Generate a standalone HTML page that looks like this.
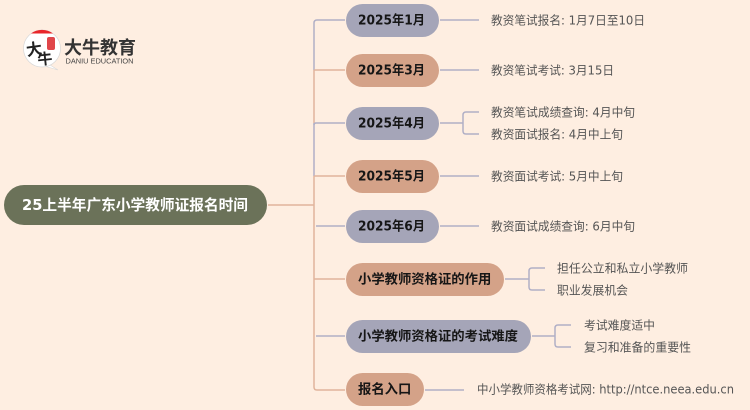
<!DOCTYPE html>
<html><head><meta charset="utf-8"><style>
html,body{margin:0;padding:0;background:#feeee1;width:750px;height:410px;overflow:hidden}
svg{display:block}
text{font-family:"DejaVu Sans","Noto Sans CJK SC",sans-serif}
.p{font-size:13.33px;font-weight:700;fill:#161616;dominant-baseline:central}
.l{font-size:12px;fill:#555;dominant-baseline:central}
.a{fill:none;stroke:#b0afc6;stroke-width:1.5}
.b{fill:none;stroke:#e0b49c;stroke-width:1.5}
</style></head><body>
<svg width="750" height="410" viewBox="0 0 750 410" xmlns="http://www.w3.org/2000/svg">
<rect width="750" height="410" fill="#feeee1"/>

<!-- logo -->
<path d="M50 65L58 70 46 66.500z" fill="#fff" stroke="#d8d8d8" stroke-width=".6"/>
<circle cx="42" cy="48.500" r="18.500" fill="#fff" stroke="#d8d8d8" stroke-width=".7"/>
<path d="M31 33.500a18.500 18.500 0 0 1 22 0z" fill="#e8262a"/>
<rect x="47" y="37" width="8" height="13" rx="2" fill="#e0464a"/>
<text x="26" y="0" font-size="16" font-weight="700" fill="#222" transform="translate(1 56) rotate(-8 26 0)" style="font-family:'Noto Sans CJK SC',sans-serif">大</text>
<text x="38" y="0" font-size="15" font-weight="700" fill="#222" transform="translate(0 65) rotate(-6 38 0)" style="font-family:'Noto Sans CJK SC',sans-serif">牛</text>
<text x="64" y="54" font-size="18" font-weight="700" fill="#333" textLength="72" lengthAdjust="spacingAndGlyphs" style="font-family:'Noto Sans CJK SC',sans-serif">大牛教育</text>
<text x="65.500" y="63.500" font-size="7" fill="#444" textLength="68" lengthAdjust="spacingAndGlyphs" style="font-family:'Liberation Sans',sans-serif">DANIU EDUCATION</text>

<!-- spine -->
<path class="b" d="M268 205H314"/>
<path class="a" d="M345 20H317Q314 20 314 23V70"/>
<path class="b" d="M314 70V123"/>
<path class="a" d="M314 123V176"/>
<path class="b" d="M314 176V387Q314 390 317 390H345"/>
<path class="b" d="M345 70H314"/>
<path class="a" d="M345 123H316Q314 123 314 125"/>
<path class="b" d="M345 176H314"/>
<path class="a" d="M345 226H316"/>
<path class="b" d="M345 279H314"/>
<path class="a" d="M345 336H316"/>

<!-- leaf connectors -->
<path class="a" d="M440 20H479"/>
<path class="a" d="M440 70H479"/>
<path class="a" d="M440 123H463M479 112H466Q463 112 463 115V131Q463 134 466 134H479"/>
<path class="a" d="M440 176H479"/>
<path class="a" d="M440 226H479"/>
<path class="a" d="M505 279H529M545 268H532Q529 268 529 271V287Q529 290 532 290H545"/>
<path class="a" d="M532 336H555M571 325H558Q555 325 555 328V344Q555 347 558 347H571"/>
<path class="a" d="M425 390H464"/>

<!-- root -->
<rect x="4" y="185" width="263" height="40" rx="20" fill="#6b7259"/>
<text x="22" y="205" font-size="15" font-weight="700" fill="#fff" dominant-baseline="central" textLength="226" lengthAdjust="spacingAndGlyphs">25上半年广东小学教师证报名时间</text>

<!-- pills -->
<rect x="346" y="4" width="93" height="33" rx="16.500" fill="#a5a5b8"/>
<text class="p" x="358" y="21" textLength="67" lengthAdjust="spacingAndGlyphs">2025年1月</text>
<rect x="346" y="54" width="93" height="33" rx="16.500" fill="#d4a288"/>
<text class="p" x="358" y="71" textLength="67" lengthAdjust="spacingAndGlyphs">2025年3月</text>
<rect x="346" y="107" width="93" height="33" rx="16.500" fill="#a5a5b8"/>
<text class="p" x="358" y="124" textLength="67" lengthAdjust="spacingAndGlyphs">2025年4月</text>
<rect x="346" y="160" width="93" height="33" rx="16.500" fill="#d4a288"/>
<text class="p" x="358" y="177" textLength="67" lengthAdjust="spacingAndGlyphs">2025年5月</text>
<rect x="346" y="210" width="93" height="33" rx="16.500" fill="#a5a5b8"/>
<text class="p" x="358" y="227" textLength="67" lengthAdjust="spacingAndGlyphs">2025年6月</text>
<rect x="346" y="263" width="158" height="33" rx="16.500" fill="#d4a288"/>
<text class="p" x="358" y="280">小学教师资格证的作用</text>
<rect x="346" y="320" width="185" height="33" rx="16.500" fill="#a5a5b8"/>
<text class="p" x="358" y="337">小学教师资格证的考试难度</text>
<rect x="346" y="373" width="78" height="33" rx="16.500" fill="#d4a288"/>
<text class="p" x="358" y="390">报名入口</text>

<!-- leaves -->
<text class="l" x="491" y="20.500" textLength="154" lengthAdjust="spacingAndGlyphs">教资笔试报名: 1月7日至10日</text>
<text class="l" x="491" y="70.500" textLength="123" lengthAdjust="spacingAndGlyphs">教资笔试考试: 3月15日</text>
<text class="l" x="491" y="112.500" textLength="144" lengthAdjust="spacingAndGlyphs">教资笔试成绩查询: 4月中旬</text>
<text class="l" x="491" y="134.500" textLength="132" lengthAdjust="spacingAndGlyphs">教资面试报名: 4月中上旬</text>
<text class="l" x="491" y="176.500" textLength="132" lengthAdjust="spacingAndGlyphs">教资面试考试: 5月中上旬</text>
<text class="l" x="491" y="226.500" textLength="144" lengthAdjust="spacingAndGlyphs">教资面试成绩查询: 6月中旬</text>
<text class="l" x="557" y="268.500" textLength="131" lengthAdjust="spacingAndGlyphs">担任公立和私立小学教师</text>
<text class="l" x="557" y="290.500" textLength="71" lengthAdjust="spacingAndGlyphs">职业发展机会</text>
<text class="l" x="584" y="325.500" textLength="71" lengthAdjust="spacingAndGlyphs">考试难度适中</text>
<text class="l" x="584" y="347.500" textLength="107" lengthAdjust="spacingAndGlyphs">复习和准备的重要性</text>
<text class="l" x="477" y="389.500" textLength="257" lengthAdjust="spacingAndGlyphs">中小学教师资格考试网: http://ntce.neea.edu.cn</text>
</svg>
</body></html>
